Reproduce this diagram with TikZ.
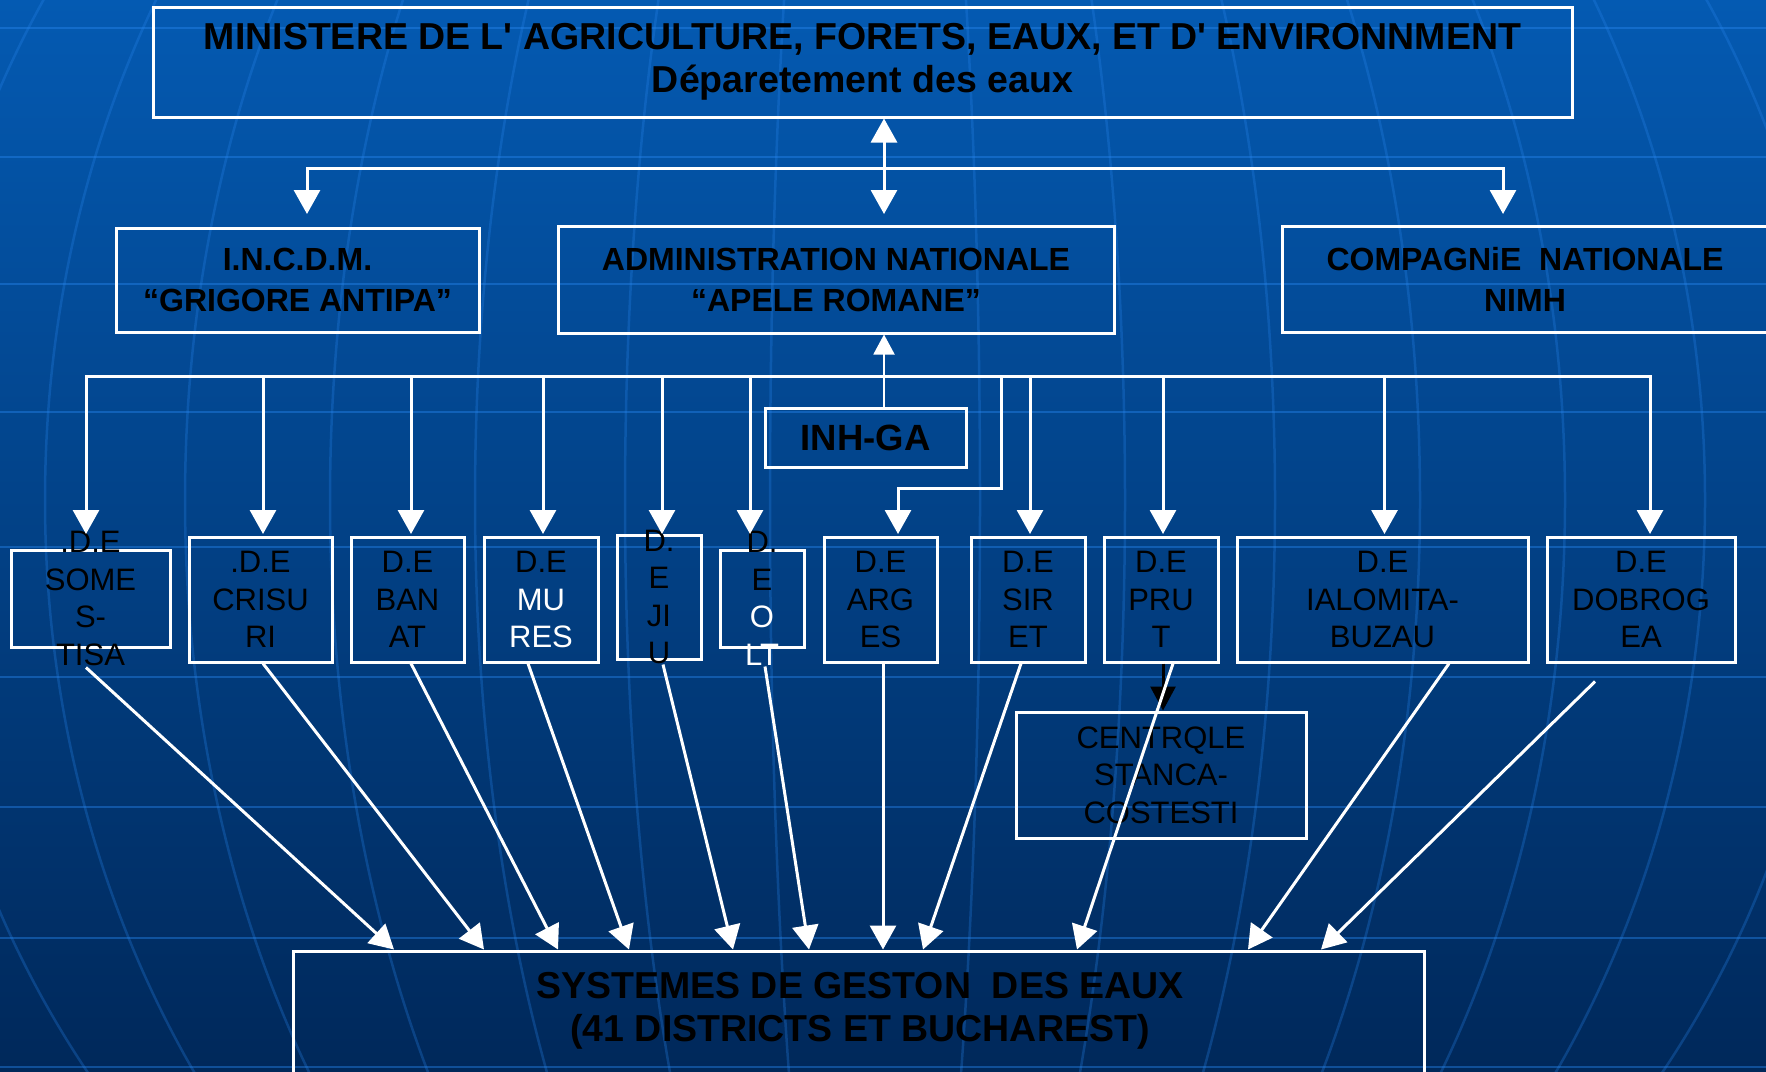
\documentclass[tikz,border=0pt]{standalone}
\usepackage{fontspec}
\setmainfont{Liberation Sans}
\usetikzlibrary{arrows.meta,calc}
\definecolor{bgtop}{RGB}{4,90,178}
\definecolor{bgmid}{RGB}{0,70,146}
\definecolor{bgbot}{RGB}{0,40,90}
\definecolor{gridc}{RGB}{40,135,240}
\begin{document}
\begin{tikzpicture}[x=1pt,y=-1pt,
  box/.style={draw=white,line width=3pt,inner sep=0pt,align=center,text=black},
  dtext/.style={font=\fontsize{31}{37.5}\selectfont,align=center,text=black},
  btext/.style={font=\fontsize{32}{41}\selectfont\bfseries},
  bigtext/.style={font=\fontsize{37.5}{43}\selectfont\bfseries,align=center,text=black},
  tipbig/.tip={Triangle[length=24pt,width=26pt]},
  arr/.style={draw=white,line width=3pt,-tipbig},
  dblarr/.style={draw=white,line width=3pt,tipbig-tipbig},
  gridline/.style={draw=gridc,line width=2.5pt,opacity=0.42},
  meridian/.style={draw=gridc,line width=2.5pt,opacity=0.28}]
\useasboundingbox (0,0) rectangle (1766,1071);
% background
\shade[top color=bgtop,middle color=bgmid,bottom color=bgbot] (0,0) rectangle (1766,1071);
\begin{scope}
  \clip (0,0) rectangle (1766,1071);
  \foreach \yy in {28,157,284,412,547,677,807,938,1067}
    \draw[gridline] (0,\yy) -- (1766,\yy);
  \foreach \a in {105,250,400,545,690,830,960}
    \draw[meridian] (875,500) ellipse [x radius=\a, y radius=1000];
\end{scope}

% top level
\node[box,bigtext,minimum width=1419pt,minimum height=110pt] (top) at (862.5,62)
  {MINISTERE DE L\textquotesingle\ AGRICULTURE, FORETS, EAUX, ET D\textquotesingle\ ENVIRONNMENT\\D\'eparetement des eaux};

% second level
\node[box,btext,minimum width=363pt,minimum height=104pt] (grig) at (297.5,280)
  {I.N.C.D.M.\\“GRIGORE ANTIPA”};
\node[box,btext,minimum width=556pt,minimum height=107pt] (admin) at (836,279.5)
  {ADMINISTRATION NATIONALE\\“APELE ROMANE”};
\node[box,btext,minimum width=486pt,minimum height=106pt] (comp) at (1525,279)
  {COMPAGNiE\ \ NATIONALE\\NIMH};

\node[box,font=\fontsize{36.5}{40}\selectfont\bfseries,minimum width=201pt,minimum height=59pt] (inh) at (865.5,437.5) {INH-GA};

% district boxes
\node[box,minimum width=159pt,minimum height=97pt] (somes) at (90.5,598.5) {};
\node[dtext] (somest) at (somes.center) {.D.E\\SOME\\S-\\TISA};
\node[box,dtext,minimum width=143pt,minimum height=125pt] (crisuri) at (260.5,599.5) {.D.E\\CRISU\\RI};
\node[box,dtext,minimum width=113pt,minimum height=125pt] (banat) at (407.5,599.5) {D.E\\BAN\\AT};
\node[box,dtext,minimum width=114pt,minimum height=125pt] (mures) at (541,599.5) {D.E\\\textcolor{white}{MU}\\\textcolor{white}{RES}};
\node[box,minimum width=84pt,minimum height=124pt] (jiu) at (659,597) {};
\node[dtext] (jiut) at (jiu.center) {D.\\E\\JI\\U};
\node[box,minimum width=84pt,minimum height=97pt] (olt) at (762,598.5) {};
\node[dtext] (oltt) at (olt.center) {D.\\E\\\textcolor{white}{O}\\\textcolor{white}{LT}};
\node[box,dtext,minimum width=113pt,minimum height=125pt] (arges) at (880.5,599.5) {D.E\\ARG\\ES};
\node[box,dtext,minimum width=114pt,minimum height=125pt] (siret) at (1028,599.5) {D.E\\SIR\\ET};
\node[box,dtext,minimum width=114pt,minimum height=125pt] (prut) at (1161,599.5) {D.E\\PRU\\T};
\node[box,dtext,minimum width=291pt,minimum height=125pt] (ialo) at (1382.5,599.5) {D.E\\IALOMITA-\\BUZAU};
\node[box,dtext,minimum width=188pt,minimum height=125pt] (dobro) at (1641,599.5) {D.E\\DOBROG\\EA};

\node[box,dtext,minimum width=290pt,minimum height=126pt] (centrale) at (1161,775) {CENTRQLE\\STANCA-\\COSTESTI};

% bottom
\node[box,minimum width=1131pt,minimum height=148pt] (sys) at (858.5,1025) {};
\node[bigtext] (syst) at (860,1011) {SYSTEMES DE GESTON\ \ DES EAUX\\(41 DISTRICTS ET BUCHAREST)};

% ---- connectors, upper part
\coordinate (cx) at (884,214);
\coordinate (barL) at (307,168);
\coordinate (barR) at (1503,168);
\coordinate (tip2) at (0,214);
\draw[dblarr] (top.south -| cx) -- (cx);
\draw[arr] (barR) -- (barL) -- (barL |- tip2);
\draw[arr] (barL) -- (barR) -- (barR |- tip2);
\draw[draw=white,line width=2pt,-{Triangle[length=20pt,width=21pt]}] (inh.north -| cx) -- (admin.south -| cx);

% bus to districts
\coordinate (busL) at (86,376);
\coordinate (busR) at (1650,376);
\coordinate (tip3) at (0,534);
\coordinate (dCri) at (263,376);
\coordinate (dBan) at (411,376);
\coordinate (dMur) at (543,376);
\coordinate (dJiu) at (662,376);
\coordinate (dOlt) at (750,376);
\coordinate (dArg) at (1001,376);
\coordinate (argK) at (898,488);
\coordinate (dSir) at (1030,376);
\coordinate (dPru) at (1163,376);
\coordinate (dIal) at (1384.5,376);
\draw[arr] (busR) -- (busL) -- (busL |- tip3);
\draw[arr] (busL) -- (busR) -- (busR |- tip3);
\foreach \d in {dCri,dBan,dMur,dJiu,dOlt,dSir,dPru,dIal}
  \draw[arr] (\d) -- (\d |- tip3);
\draw[arr] (dArg) -- (dArg |- argK) -- (argK) -- (argK |- tip3);

% black arrow prut -> centrale
\draw[draw=black,line width=3pt,-{Triangle[length=24pt,width=25pt,fill=black]}] ([xshift=2pt]prut.south) -- ([xshift=2pt]centrale.north);

% districts to systemes
\draw[arr] ([xshift=-4.5pt,yshift=-19pt]somes.south) -- ([xshift=-464.5pt]sys.north);
\draw[arr] ([xshift=2.5pt]crisuri.south) -- ([xshift=-374.5pt]sys.north);
\draw[arr] ([xshift=3.5pt]banat.south) -- ([xshift=-300.5pt]sys.north);
\draw[arr] ([xshift=-13pt]mures.south) -- ([xshift=-229.5pt]sys.north);
\draw[arr] ([xshift=4pt,yshift=-4pt]jiu.south) -- ([xshift=-125.5pt]sys.north);
\draw[arr] ([xshift=3pt,yshift=-18pt]olt.south) -- ([xshift=-49.5pt]sys.north);
\draw[arr] ([xshift=2.5pt]arges.south) -- ([xshift=24.5pt]sys.north);
\draw[arr] ([xshift=-7pt]siret.south) -- ([xshift=64.5pt]sys.north);
\draw[arr] ([xshift=12pt]prut.south) -- ([xshift=218.5pt]sys.north);
\draw[arr] ([xshift=66.5pt]ialo.south) -- ([xshift=389.5pt]sys.north);
\draw[arr] ([xshift=-46pt,yshift=-18pt]dobro.south) -- ([xshift=462.5pt]sys.north);
\end{tikzpicture}
\end{document}
